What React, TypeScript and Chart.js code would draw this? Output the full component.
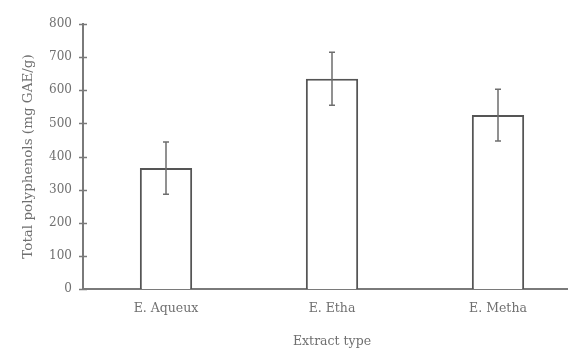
import React, { useEffect, useRef } from "react";
import { Chart, registerables } from "chart.js";

Chart.register(...registerables);

const categories = ["E. Aqueux", "E. Etha", "E. Metha"];
const values = [365, 635, 525];
const errors = [79, 80, 78];
const yTicks = [0, 100, 200, 300, 400, 500, 600, 700, 800];

const TEXT = "#707070";
const AXIS = "#7a7a7a";
const FONT = "'DejaVu Serif', serif";

const errorBarPlugin = {
  id: "errorBars",
  afterDatasetsDraw(chart: any) {
    const meta = chart.getDatasetMeta(0);
    const y = chart.scales.y;
    const ctx = chart.ctx;
    ctx.save();
    ctx.strokeStyle = "#6e6e6e";
    ctx.lineWidth = 1.5;
    meta.data.forEach((bar: any, i: number) => {
      const top = y.getPixelForValue(values[i] + errors[i]);
      const bot = y.getPixelForValue(values[i] - errors[i]);
      const x = bar.x;
      ctx.beginPath();
      ctx.moveTo(x, top);
      ctx.lineTo(x, bot);
      ctx.moveTo(x - 3, top);
      ctx.lineTo(x + 3, top);
      ctx.moveTo(x - 3, bot);
      ctx.lineTo(x + 3, bot);
      ctx.stroke();
    });
    ctx.restore();
  },
};

const yTickPlugin = {
  id: "crossTicks",
  afterDraw(chart: any) {
    const y = chart.scales.y;
    const x0 = chart.chartArea.left;
    const ctx = chart.ctx;
    ctx.save();
    ctx.strokeStyle = AXIS;
    ctx.lineWidth = 1.5;
    yTicks.forEach((v) => {
      const py = Math.round(y.getPixelForValue(v)) + 0.5;
      ctx.beginPath();
      ctx.moveTo(x0 - 4, py);
      ctx.lineTo(x0 + 4, py);
      ctx.stroke();
    });
    ctx.restore();
  },
};

export default function App() {
  const ref = useRef<HTMLCanvasElement>(null);
  useEffect(() => {
    if (!ref.current) return;
    const chart = new Chart(ref.current, {
      type: "bar",
      data: {
        labels: categories,
        datasets: [
          {
            data: values,
            backgroundColor: "#ffffff",
            borderColor: "#555555",
            borderWidth: 2,
            categoryPercentage: 1,
            barPercentage: 0.315,
          },
        ],
      },
      options: {
        animation: false,
        responsive: true,
        maintainAspectRatio: false,
        layout: { padding: { top: 24, left: 0, right: 19, bottom: 0 } },
        plugins: { legend: { display: false }, tooltip: { enabled: false } },
        scales: {
          x: {
            grid: { display: false, drawTicks: false },
            border: { display: true, color: AXIS, width: 2 },
            ticks: { color: TEXT, font: { family: FONT, size: 12.5 }, padding: 12 },
            title: {
              display: true,
              text: "Extract type",
              color: TEXT,
              font: { family: FONT, size: 12.5 },
              padding: { top: 0, bottom: 3 },
            },
            afterFit(scale: any) {
              scale.height = 63;
            },
          },
          y: {
            min: 0,
            max: 800,
            afterBuildTicks(scale: any) {
              scale.ticks = yTicks.map((v) => ({ value: v }));
            },
            grid: { display: false, drawTicks: false },
            border: { display: true, color: AXIS, width: 2 },
            ticks: { color: TEXT, font: { family: FONT, size: 12 }, padding: 11 },
            title: {
              display: true,
              text: "Total polyphenols (mg GAE/g)",
              color: TEXT,
              font: { family: FONT, size: 13.5 },
              padding: { top: 20, bottom: 0 },
            },
            afterFit(scale: any) {
              scale.width = 83;
            },
          },
        },
      },
      plugins: [errorBarPlugin, yTickPlugin],
    });
    return () => chart.destroy();
  }, []);
  return (
    <div
      style={{
        position: "fixed",
        left: 0,
        top: 0,
        width: 568,
        height: 352,
        overflow: "hidden",
        background: "#ffffff",
      }}
    >
      <div style={{ width: 600, height: 352, position: "relative" }}>
        <canvas ref={ref} />
      </div>
    </div>
  );
}
